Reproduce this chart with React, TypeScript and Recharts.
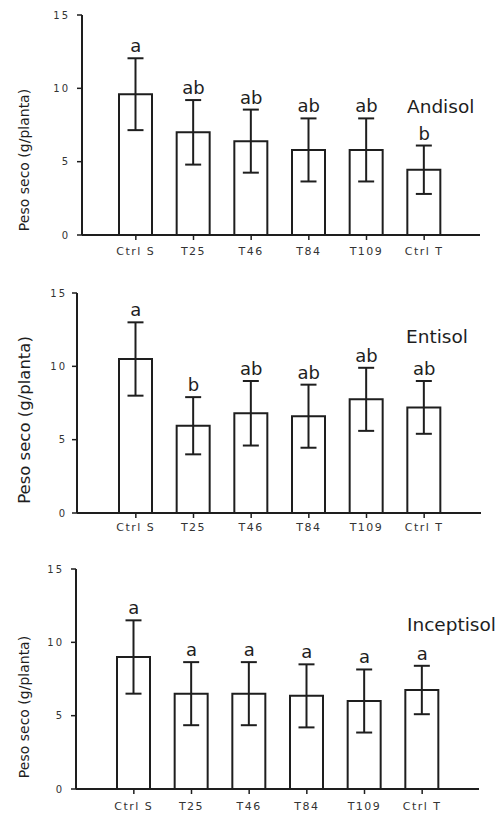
import React from 'react';
import {
  ComposedChart,
  Bar,
  Line,
  XAxis,
  YAxis,
  ErrorBar,
  LabelList,
} from 'recharts';

const categories = ['Ctrl S', 'T25', 'T46', 'T84', 'T109', 'Ctrl T'];
const yTicks = [0, 5, 10, 15];

const andisolMean = [9.6, 7.0, 6.4, 5.8, 5.8, 4.45];
const andisolErr = [2.45, 2.2, 2.15, 2.15, 2.15, 1.65];
const andisolSig = ['a', 'ab', 'ab', 'ab', 'ab', 'b'];

const entisolMean = [10.5, 5.95, 6.8, 6.6, 7.75, 7.2];
const entisolErr = [2.5, 1.95, 2.2, 2.15, 2.15, 1.8];
const entisolSig = ['a', 'b', 'ab', 'ab', 'ab', 'ab'];

const inceptisolMean = [9.0, 6.5, 6.5, 6.35, 6.0, 6.75];
const inceptisolErr = [2.5, 2.15, 2.15, 2.15, 2.15, 1.65];
const inceptisolSig = ['a', 'a', 'a', 'a', 'a', 'a'];

const FONT = '"DejaVu Sans", Verdana, sans-serif';
const INK = '#1e1e1e';

function buildRows(mean: number[], err: number[], sig: string[]) {
  return categories.map((name, i) => ({
    name,
    mean: mean[i],
    err: err[i],
    top: mean[i] + err[i],
    sig: sig[i],
  }));
}

interface PanelProps {
  rows: ReturnType<typeof buildRows>;
  top: number;
  height: number;
  margin: { top: number; right: number; bottom: number; left: number };
  yWidth: number;
  xHeight: number;
  pad: { left: number; right: number };
  xTickMargin: number;
  yTickMargin: number;
}

function Panel({ rows, top, height, margin, yWidth, xHeight, pad, xTickMargin, yTickMargin }: PanelProps) {
  return (
    <div style={{ position: 'absolute', left: 0, top }}>
      <ComposedChart width={497} height={height} data={rows} margin={margin}>
        <XAxis
          dataKey="name"
          height={xHeight}
          padding={pad}
          axisLine={{ stroke: INK, strokeWidth: 2 }}
          tickLine={{ stroke: INK, strokeWidth: 1.5 }}
          tickSize={5}
          tickMargin={xTickMargin}
          interval={0}
          tick={{ fontSize: 11, fill: '#333', fontFamily: FONT, letterSpacing: 1.5 }}
        />
        <YAxis
          width={yWidth}
          domain={[0, 15]}
          ticks={yTicks}
          axisLine={{ stroke: INK, strokeWidth: 2 }}
          tickLine={{ stroke: INK, strokeWidth: 1.5 }}
          tickSize={5}
          tickMargin={yTickMargin}
          tick={{ fontSize: 10, fill: '#333', fontFamily: FONT, letterSpacing: 2 }}
        />
        <Bar
          dataKey="mean"
          barSize={33}
          fill="#ffffff"
          stroke={INK}
          strokeWidth={2}
          isAnimationActive={false}
        >
          <ErrorBar dataKey="err" width={8} stroke={INK} strokeWidth={2} direction="y" />
        </Bar>
        <Line
          dataKey="top"
          stroke="none"
          dot={false}
          activeDot={false}
          legendType="none"
          isAnimationActive={false}
        >
          <LabelList
            dataKey="sig"
            position="top"
            offset={6}
            style={{ fontSize: 18, fill: INK, fontFamily: FONT }}
          />
        </Line>
      </ComposedChart>
    </div>
  );
}

export default function App() {
  const andisol = buildRows(andisolMean, andisolErr, andisolSig);
  const entisol = buildRows(entisolMean, entisolErr, entisolSig);
  const inceptisol = buildRows(inceptisolMean, inceptisolErr, inceptisolSig);

  return (
    <div
      style={{
        position: 'absolute',
        left: 0,
        top: 0,
        width: 497,
        height: 813,
        background: '#ffffff',
        overflow: 'hidden',
      }}
    >
      <Panel
        rows={andisol}
        top={0}
        height={265}
        margin={{ top: 15, right: 17, bottom: 5, left: 0 }}
        yWidth={82}
        xHeight={25}
        pad={{ left: 25, right: 27 }}
        xTickMargin={7}
        yTickMargin={7}
      />
      <Panel
        rows={entisol}
        top={270}
        height={270}
        margin={{ top: 23, right: 16, bottom: 2, left: 0 }}
        yWidth={77}
        xHeight={25}
        pad={{ left: 30, right: 28 }}
        xTickMargin={5}
        yTickMargin={5}
      />
      <Panel
        rows={inceptisol}
        top={545}
        height={268}
        margin={{ top: 24, right: 18, bottom: 4, left: 0 }}
        yWidth={76}
        xHeight={20}
        pad={{ left: 29, right: 28 }}
        xTickMargin={8}
        yTickMargin={7}
      />
      {/* soil names and y titles */}
      <svg
        width={497}
        height={813}
        style={{ position: 'absolute', left: 0, top: 0, pointerEvents: 'none' }}
      >
        <g fontFamily={FONT} fill={INK}>
          <text x={407} y={113} fontSize={18.5}>Andisol</text>
          <text x={406} y={343} fontSize={18.5}>Entisol</text>
          <text x={407} y={631} fontSize={18.5}>Inceptisol</text>
          <text x={28.6} y={160} fontSize={14} textAnchor="middle" transform="rotate(-90 28.6 160)">
            Peso seco (g/planta)
          </text>
          <text x={30} y={420} fontSize={16.5} textAnchor="middle" transform="rotate(-90 30 420)">
            Peso seco (g/planta)
          </text>
          <text x={28.6} y={707} fontSize={14} textAnchor="middle" transform="rotate(-90 28.6 707)">
            Peso seco (g/planta)
          </text>
        </g>
      </svg>
    </div>
  );
}
